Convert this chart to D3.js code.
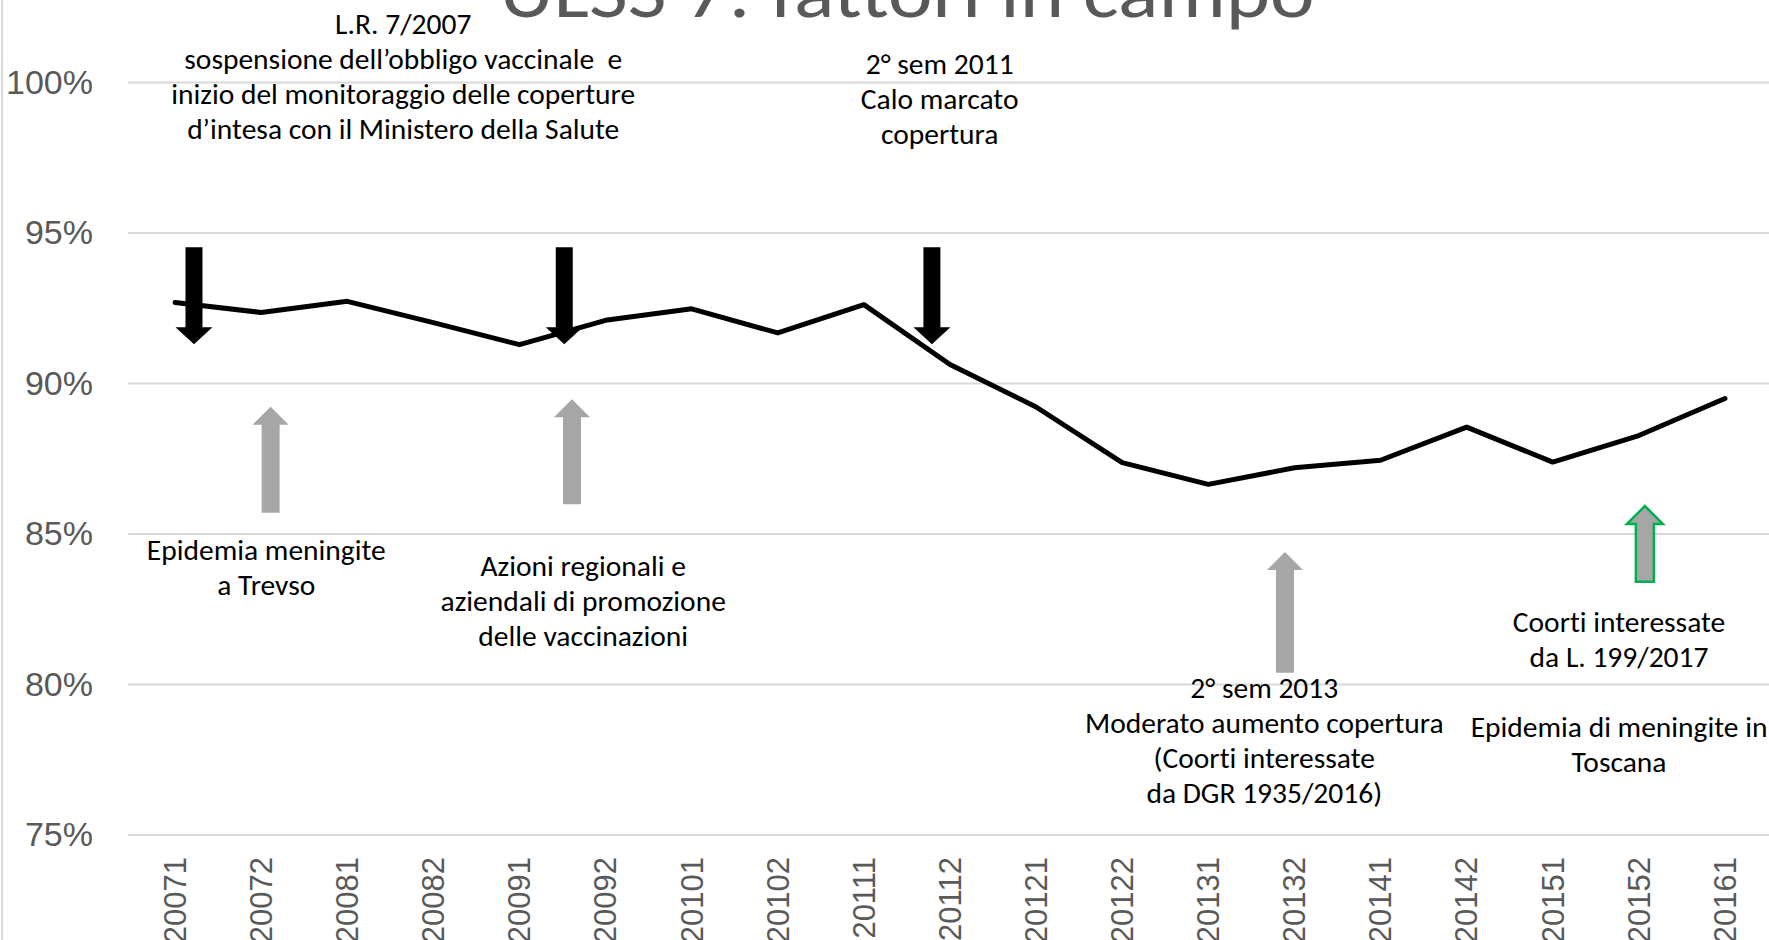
<!DOCTYPE html>
<html>
<head>
<meta charset="utf-8">
<script src="https://cdn.jsdelivr.net/npm/d3@7"></script>
<style>
  body { margin: 0; background: #fff; }
  svg { display: block; font-family: "Carlito", "Liberation Sans Narrow", "Open Sans", sans-serif; font-variant-ligatures: none; }
  .note { white-space: pre; }
</style>
</head>
<body>
<div id="chart"></div>
<script>
// semesters (year + semester) and coverage %
var periods = ["20071", "20072", "20081", "20082", "20091", "20092", "20101", "20102", "20111", "20112",
  "20121", "20122", "20131", "20132", "20141", "20142", "20151", "20152", "20161"];
var coverage = [92.69, 92.36, 92.73, 92.02, 91.29, 92.10, 92.48, 91.68, 92.62, 90.63,
  89.22, 87.37, 86.65, 87.20, 87.45, 88.55, 87.39, 88.27, 89.50];
var yTicks = [75, 80, 85, 90, 95, 100];

// arrows: position on the category index axis, from/to in % units
var downArrows = [
  { at: 0.22, from: 94.53, to: 91.30 },
  { at: 4.52, from: 94.53, to: 91.30 },
  { at: 8.79, from: 94.53, to: 91.30 }
];
var upArrows = [
  { at: 1.11, from: 85.71, to: 89.23, outline: "none" },
  { at: 4.61, from: 85.99, to: 89.48, outline: "none" },
  { at: 12.89, from: 80.39, to: 84.40, outline: "none" },
  { at: 17.07, from: 83.41, to: 85.93, outline: "#00b050" }
];

// annotation text blocks: index position and % of first line
var notes = [
  { at: 2.65, top: 101.96, lines: ["L.R. 7/2007", "sospensione dell\u2019obbligo vaccinale  e", "inizio del monitoraggio delle coperture", "d\u2019intesa con il Ministero della Salute"] },
  { at: 8.88, top: 100.61, lines: ["2\u00b0 sem 2011", "Calo marcato", "copertura"] },
  { at: 1.06, top: 84.47, lines: ["Epidemia meningite", "a Trevso"] },
  { at: 4.74, top: 83.94, lines: ["Azioni regionali e", "aziendali di promozione", "delle vaccinazioni"] },
  { at: 12.65, top: 79.90, lines: ["2\u00b0 sem 2013", "Moderato aumento copertura", "(Coorti interessate", "da DGR 1935/2016)"] },
  { at: 16.77, top: 82.09, lines: ["Coorti interessate", "da L. 199/2017"] },
  { at: 16.77, top: 78.60, lines: ["Epidemia di meningite in", "Toscana"] }
];

var svgWidth = 1769;
var svgHeight = 940;

var svg = d3.select("#chart")
  .append("svg")
  .attr("width", svgWidth)
  .attr("height", svgHeight);

svg.append("rect")
  .attr("width", svgWidth)
  .attr("height", svgHeight)
  .attr("fill", "#fff");

// slide border on the left
svg.append("line")
  .attr("x1", 2).attr("x2", 2)
  .attr("y1", 0).attr("y2", svgHeight)
  .attr("stroke", "#d9d9d9")
  .attr("stroke-width", 2);

var xBand = d3.scaleBand()
  .domain(periods)
  .range([132, 1768]);
var xIdx = d3.scaleLinear()
  .domain([0, periods.length - 1])
  .range([xBand(periods[0]) + xBand.bandwidth() / 2, xBand(periods[periods.length - 1]) + xBand.bandwidth() / 2]);
var y = d3.scaleLinear()
  .domain([75, 100])
  .range([835, 82.5]);

// title (top is cut off in the original)
svg.append("text")
  .attr("x", 907)
  .attr("y", 17)
  .attr("text-anchor", "middle")
  .attr("fill", "#595959")
  .attr("font-size", 74)
  .attr("textLength", 815)
  .attr("lengthAdjust", "spacingAndGlyphs")
  .text("ULSS 7: fattori in campo");

// gridlines
svg.append("g")
  .selectAll("line")
  .data(yTicks)
  .enter()
  .append("line")
  .attr("x1", 128)
  .attr("x2", svgWidth)
  .attr("y1", d => y(d))
  .attr("y2", d => y(d))
  .attr("stroke", "#d9d9d9")
  .attr("stroke-width", 2);

// y axis labels
var yAxis = d3.axisLeft(y)
  .tickValues(yTicks)
  .tickFormat(d => d + "%")
  .tickSize(0)
  .tickPadding(0);
var yAxisG = svg.append("g")
  .attr("transform", "translate(93,0)")
  .call(yAxis);
yAxisG.select(".domain").remove();
yAxisG.selectAll("text")
  .attr("fill", "#595959")
  .attr("font-size", 34)
  .attr("font-family", "inherit");

// x axis labels, rotated
var xAxis = d3.axisBottom(xBand).tickSize(0).tickPadding(0);
var xAxisG = svg.append("g")
  .attr("transform", "translate(0,857)")
  .call(xAxis);
xAxisG.select(".domain").remove();
xAxisG.selectAll("text")
  .attr("fill", "#595959")
  .attr("font-size", 31)
  .attr("font-family", "inherit")
  .attr("text-anchor", "end")
  .attr("transform", "rotate(-90)")
  .attr("x", 0)
  .attr("y", 0)
  .attr("dy", "0.35em");

// the coverage line
var line = d3.line()
  .x((d, i) => xBand(periods[i]) + xBand.bandwidth() / 2)
  .y(d => y(d));
svg.append("path")
  .datum(coverage)
  .attr("d", line)
  .attr("fill", "none")
  .attr("stroke", "#000")
  .attr("stroke-width", 5)
  .attr("stroke-linejoin", "round")
  .attr("stroke-linecap", "round");

// block arrow shape, pointing from y0 to y1
function arrowPath(cx, y0, y1, shaftW, headW, headL) {
  var dir = y1 > y0 ? 1 : -1;
  var yb = y1 - dir * headL;
  return "M" + (cx - shaftW / 2) + "," + y0 +
    "L" + (cx + shaftW / 2) + "," + y0 +
    "L" + (cx + shaftW / 2) + "," + yb +
    "L" + (cx + headW / 2) + "," + yb +
    "L" + cx + "," + y1 +
    "L" + (cx - headW / 2) + "," + yb +
    "L" + (cx - shaftW / 2) + "," + yb + "Z";
}

svg.append("g")
  .selectAll("path")
  .data(downArrows)
  .enter()
  .append("path")
  .attr("d", d => arrowPath(xIdx(d.at), y(d.from), y(d.to), 17, 37, 17))
  .attr("fill", "#000");

svg.append("g")
  .selectAll("path")
  .data(upArrows)
  .enter()
  .append("path")
  .attr("d", d => arrowPath(xIdx(d.at), y(d.from), y(d.to), 18, 36, 18))
  .attr("fill", "#a6a6a6")
  .attr("stroke", d => d.outline)
  .attr("stroke-width", 2.5);

// annotation texts
var noteG = svg.append("g")
  .selectAll("text")
  .data(notes)
  .enter()
  .append("text")
  .attr("class", "note")
  .attr("text-anchor", "middle")
  .attr("fill", "#000")
  .attr("font-size", 29.5);
noteG.selectAll("tspan")
  .data(d => d.lines.map((t, i) => ({ t: t, i: i, at: d.at, top: d.top })))
  .enter()
  .append("tspan")
  .attr("x", d => xIdx(d.at))
  .attr("y", d => y(d.top) + d.i * 35)
  .attr("dy", "0.35em")
  .text(d => d.t);
</script>
</body>
</html>
